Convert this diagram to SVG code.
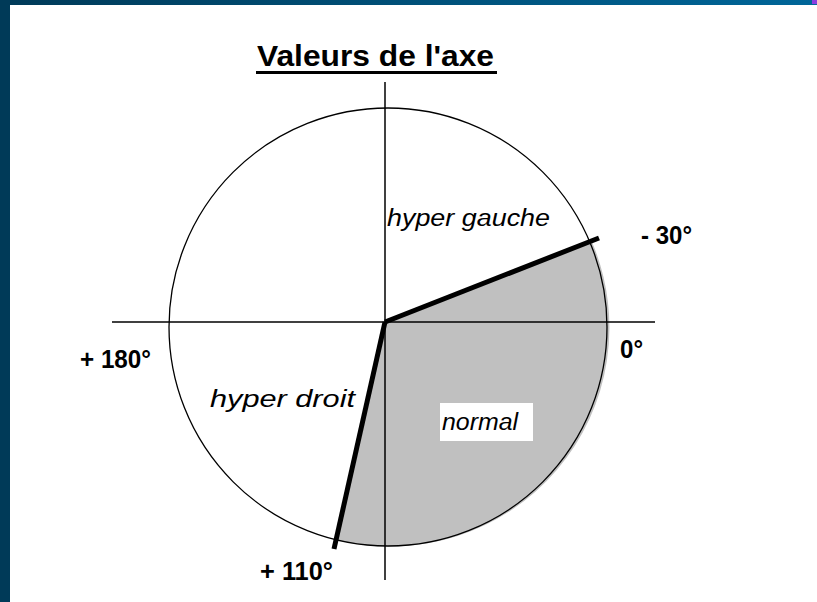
<svg xmlns="http://www.w3.org/2000/svg" width="817" height="602" viewBox="0 0 817 602">
<defs>
<linearGradient id="topbar" x1="0" y1="0" x2="1" y2="0">
<stop offset="0" stop-color="#003a58"/>
<stop offset="1" stop-color="#006699"/>
</linearGradient>
</defs>
<style>
.axis{stroke:#000;stroke-width:1.5;fill:none}
.rim{stroke:#000;stroke-width:1.3;fill:none}
.bound{stroke:#000;stroke-width:5;stroke-linecap:butt;fill:none}
.deg{font-family:"Liberation Sans",Arial,sans-serif;font-weight:bold;font-size:26px;fill:#000}
.zone{font-family:"Liberation Sans",Arial,sans-serif;font-style:italic;font-size:23px;fill:#000}
.title{font-family:"Liberation Sans",Arial,sans-serif;font-weight:bold;font-size:29px;fill:#000}
</style>
<rect x="0" y="0" width="817" height="602" fill="#ffffff"/>
<rect x="0" y="0" width="817" height="5" fill="url(#topbar)"/>
<rect x="0" y="0" width="10" height="602" fill="#003a58"/>
<rect x="812" y="0" width="5" height="4" fill="#8a3de0"/>

<g id="title">
<text class="title" x="257" y="66" textLength="237" lengthAdjust="spacingAndGlyphs">Valeurs de l'axe</text>
<rect x="256" y="71" width="241" height="3" fill="#000"/>
</g>

<g id="normal-sector">
<path d="M 385 322 L 592 242 A 219 219 0 0 1 337 540 Z" fill="#c0c0c0"/>
</g>

<g id="circle">
<circle cx="388" cy="327" r="219" class="rim"/>
</g>

<g id="connectors">
<line class="axis" x1="112" y1="322" x2="655" y2="322"/>
<line class="axis" x1="385" y1="82" x2="385" y2="580"/>
<line class="bound" x1="385" y1="322" x2="599" y2="238"/>
<line class="bound" x1="385" y1="322" x2="334" y2="549"/>
</g>

<g id="label-hyper-gauche">
<text class="zone" x="387" y="226" textLength="163" lengthAdjust="spacingAndGlyphs">hyper gauche</text>
</g>
<g id="label-minus30">
<text class="deg" x="641" y="244" textLength="51" lengthAdjust="spacingAndGlyphs">- 30°</text>
</g>
<g id="label-0">
<text class="deg" x="620" y="358" textLength="23" lengthAdjust="spacingAndGlyphs">0°</text>
</g>
<g id="label-plus180">
<text class="deg" x="80" y="368" textLength="71" lengthAdjust="spacingAndGlyphs">+ 180°</text>
</g>
<g id="label-hyper-droit">
<text class="zone" x="210" y="407" textLength="145" lengthAdjust="spacingAndGlyphs">hyper droit</text>
</g>
<g id="label-normal">
<rect x="440" y="403" width="93" height="38" fill="#ffffff"/>
<text class="zone" x="442" y="430" textLength="76" lengthAdjust="spacingAndGlyphs">normal</text>
</g>
<g id="label-plus110">
<text class="deg" x="260" y="580" textLength="73" lengthAdjust="spacingAndGlyphs">+ 110°</text>
</g>
</svg>
